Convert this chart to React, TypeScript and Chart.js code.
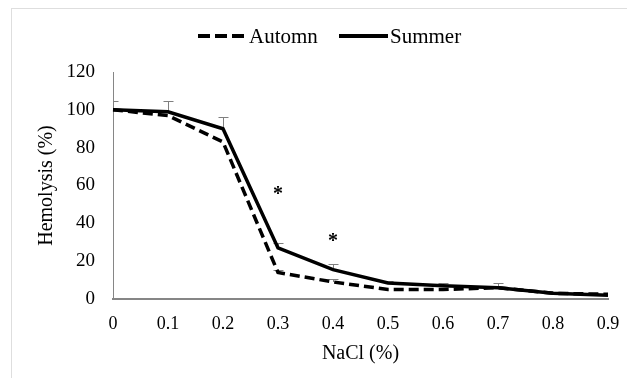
import React, { useEffect, useRef } from "react";
import { Chart, registerables } from "chart.js";

Chart.register(...registerables);

const categories = ["0", "0.1", "0.2", "0.3", "0.4", "0.5", "0.6", "0.7", "0.8", "0.9"];
const autumnValues = [100, 97, 83, 14, 9, 5, 5, 6, 3, 2.5];
const summerValues = [100, 99, 90, 27, 15.5, 8.5, 7, 6, 3, 2];
const autumnErrors = [0, 0, 0, 1.5, 1.6, 0, 0, 0, 0, 0];
const summerErrors = [4.7, 5.7, 6, 2.6, 3, 1.2, 1.6, 2.3, 0, 0];
const starCategories = ["0.3", "0.4"];
const starValues = [57, 32.5];
const yTicks = [0, 20, 40, 60, 80, 100, 120];

const SERIF = "'Liberation Serif', 'Times New Roman', serif";

const errorBarPlugin = {
  id: "errorBars",
  beforeDatasetsDraw(chart: any) {
    const { ctx, chartArea, scales } = chart;
    ctx.save();
    ctx.beginPath();
    ctx.rect(chartArea.left, chartArea.top - 20, chartArea.right - chartArea.left + 10, chartArea.bottom - chartArea.top + 20);
    ctx.clip();
    ctx.strokeStyle = "#7f7f7f";
    ctx.lineWidth = 1;
    chart.data.datasets.forEach((ds: any) => {
      const errs: number[] = ds.errors || [];
      ds.data.forEach((v: number, i: number) => {
        const e = errs[i];
        if (!e) return;
        const x = Math.round(scales.x.getPixelForValue(i)) + 0.5;
        const y0 = scales.y.getPixelForValue(v);
        const y1 = Math.round(scales.y.getPixelForValue(v + e)) + 0.5;
        ctx.beginPath();
        ctx.moveTo(x, y0);
        ctx.lineTo(x, y1);
        ctx.moveTo(x - 5, y1);
        ctx.lineTo(x + 5, y1);
        ctx.stroke();
      });
    });
    ctx.restore();
  },
};

const starPlugin = {
  id: "stars",
  afterDatasetsDraw(chart: any) {
    const { ctx, scales } = chart;
    ctx.save();
    ctx.fillStyle = "#000";
    ctx.font = `bold 20px ${SERIF}`;
    ctx.textAlign = "center";
    ctx.textBaseline = "middle";
    starCategories.forEach((c, i) => {
      const x = scales.x.getPixelForValue(categories.indexOf(c));
      const y = scales.y.getPixelForValue(starValues[i]);
      ctx.fillText("*", x, y + 4);
    });
    ctx.restore();
  },
};

const legendPlugin = {
  id: "customLegend",
  afterDraw(chart: any) {
    const { ctx } = chart;
    const ds = chart.data.datasets;
    const items = [
      { x0: 198, x1: 244, tx: 249, d: ds[0] },
      { x0: 339, x1: 388, tx: 390, d: ds[1] },
    ];
    const y = 36;
    ctx.save();
    items.forEach((it) => {
      ctx.strokeStyle = "#000";
      ctx.lineWidth = 4;
      ctx.setLineDash(it.d.borderDash && it.d.borderDash.length ? [12, 5] : []);
      ctx.beginPath();
      ctx.moveTo(it.x0, y);
      ctx.lineTo(it.x1, y);
      ctx.stroke();
      ctx.setLineDash([]);
      ctx.fillStyle = "#000";
      ctx.font = `21px ${SERIF}`;
      ctx.textAlign = "left";
      ctx.textBaseline = "middle";
      ctx.fillText(it.d.label, it.tx, y + 1);
    });
    ctx.restore();
  },
};

export default function App() {
  const ref = useRef<HTMLCanvasElement | null>(null);
  useEffect(() => {
    if (!ref.current) return;
    const chart = new Chart(ref.current, {
      type: "line",
      data: {
        labels: categories,
        datasets: [
          {
            label: "Automn",
            data: autumnValues,
            errors: autumnErrors,
            borderColor: "#000",
            borderWidth: 3.5,
            borderDash: [10, 5],
            pointRadius: 0,
            tension: 0,
            fill: false,
          } as any,
          {
            label: "Summer",
            data: summerValues,
            errors: summerErrors,
            borderColor: "#000",
            borderWidth: 3.5,
            pointRadius: 0,
            tension: 0,
            fill: false,
          } as any,
        ],
      },
      options: {
        responsive: false,
        animation: false,
        layout: { padding: { top: 72, right: 19, left: 0, bottom: 0 } },
        plugins: {
          legend: { display: false },
          tooltip: { enabled: false },
        },
        scales: {
          x: {
            type: "category",
            offset: false,
            grid: { display: false, drawTicks: false },
            border: { color: "#868686", width: 2 },
            ticks: {
              color: "#000",
              font: { family: SERIF, size: 18 },
              padding: 14,
              maxRotation: 0,
              autoSkip: false,
            },
            title: {
              display: true,
              text: "NaCl (%)",
              color: "#000",
              font: { family: SERIF, size: 20 },
              padding: { top: 0, bottom: 12 },
            },
            afterFit: (s: any) => {
              s.height = 79;
              s.paddingLeft = 0;
              s.paddingRight = 0;
            },
          },
          y: {
            min: 0,
            max: 120,
            afterBuildTicks: (s: any) => {
              s.ticks = yTicks.map((v) => ({ value: v }));
            },
            grid: { display: false, drawTicks: false },
            border: { color: "#868686", width: 1 },
            ticks: {
              color: "#000",
              font: { family: SERIF, size: 19 },
              padding: 18,
            },
            title: {
              display: true,
              text: "Hemolysis (%)",
              color: "#000",
              font: { family: SERIF, size: 20 },
              padding: { top: 35, bottom: 0 },
            },
            afterFit: (s: any) => {
              s.width = 113;
              s.paddingTop = 0;
              s.paddingBottom = 0;
            },
          },
        },
      } as any,
      plugins: [errorBarPlugin, starPlugin, legendPlugin],
    });
    return () => chart.destroy();
  }, []);

  return (
    <div style={{ position: "absolute", left: 0, top: 0, width: 627, height: 378, background: "#fff" }}>
      <div
        style={{
          position: "absolute",
          left: 11,
          top: 8,
          right: 0,
          bottom: 0,
          borderTop: "1px solid #dedede",
          borderLeft: "1px solid #dedede",
        }}
      />
      <canvas ref={ref} width={627} height={378} style={{ position: "absolute", left: 0, top: 0 }} />
    </div>
  );
}
